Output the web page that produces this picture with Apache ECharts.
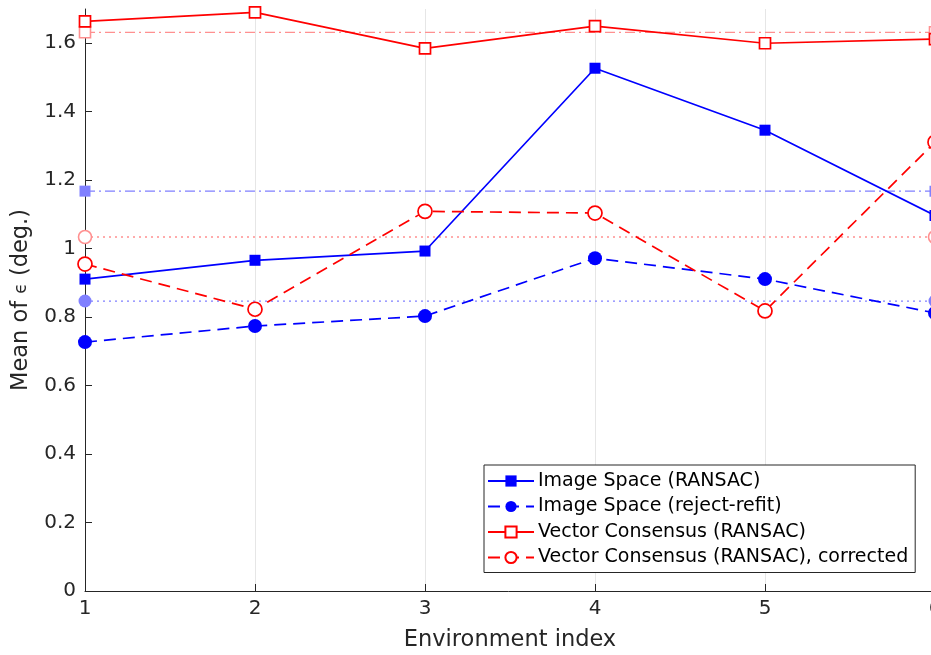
<!DOCTYPE html>
<html><head><meta charset="utf-8">
<script src="https://cdn.jsdelivr.net/npm/echarts@6/dist/echarts.min.js"></script>
<style>html,body{margin:0;padding:0;background:#fff}#c{width:931px;height:655px}</style>
</head><body><div id="c"></div>
<script>
const envIndex = [1, 2, 3, 4, 5, 6];
const imgRansac = [0.911, 0.966, 0.993, 1.527, 1.346, 1.097];
const imgRejectRefit = [0.727, 0.774, 0.803, 0.972, 0.911, 0.812];
const vcRansac = [1.664, 1.690, 1.585, 1.650, 1.600, 1.612];
const vcCorrected = [0.955, 0.823, 1.109, 1.104, 0.818, 1.311];
const meanImgRansac = 1.168;
const meanImgRejectRefit = 0.847;
const meanVcRansac = 1.632;
const meanVcCorrected = 1.034;
const yTicks = [0, 0.2, 0.4, 0.6, 0.8, 1, 1.2, 1.4, 1.6];
const names = ['Image Space (RANSAC)', 'Image Space (reject-refit)', 'Vector Consensus (RANSAC)', 'Vector Consensus (RANSAC), corrected'];

const pts = arr => envIndex.map((x, i) => [x, arr[i]]);
const meanPts = m => [[envIndex[0], m], [envIndex[envIndex.length - 1], m]];

const BLUE = '#0000ff', RED = '#ff0000', LBLUE = '#8080ff', LRED = '#ff9090';
const FONT = 'DejaVu Sans';

const chart = echarts.init(document.getElementById('c'), null, {renderer: 'canvas'});
chart.setOption({
  animation: false,
  backgroundColor: '#fff',
  grid: {left: 85, right: -4, top: 9, bottom: 64, outerBoundsMode: 'none', containLabel: false},
  legend: {
    data: names,
    orient: 'vertical',
    left: 484, top: 465,
    padding: [6, 7, 5, 3],
    itemGap: 5.5,
    itemWidth: 46, itemHeight: 14,
    backgroundColor: '#fff',
    borderColor: '#262626', borderWidth: 1,
    textStyle: {fontFamily: FONT, fontSize: 19, lineHeight: 20, color: '#000', padding: [0, 0, 0, -1]}
  },
  xAxis: {
    type: 'value', min: 1, max: 6, interval: 1,
    name: 'Environment index', nameLocation: 'middle', nameGap: 38,
    nameTextStyle: {fontFamily: FONT, fontSize: 22.5, color: '#262626'},
    axisLine: {lineStyle: {color: '#262626', width: 1}},
    axisTick: {inside: true, length: 7, lineStyle: {color: '#262626'}},
    axisLabel: {fontFamily: FONT, fontSize: 20, color: '#262626', margin: 8},
    splitLine: {show: true, lineStyle: {color: '#e6e6e6', width: 1}}
  },
  yAxis: {
    type: 'value', min: 0, max: 1.7,
    name: 'Mean of {e|ϵ} (deg.)', nameLocation: 'middle', nameGap: 52, nameRotate: 90,
    nameTextStyle: {fontFamily: FONT, fontSize: 22.5, color: '#262626', rich: {e: {fontFamily: FONT, fontSize: 17, color: '#262626'}}},
    axisLine: {show: true, lineStyle: {color: '#262626', width: 1}},
    axisTick: {inside: true, length: 7, customValues: yTicks, lineStyle: {color: '#262626'}},
    axisLabel: {fontFamily: FONT, fontSize: 20, color: '#262626', margin: 9, customValues: yTicks},
    splitLine: {show: false}
  },
  series: [
    {name: 'meanImgRansac', type: 'line', data: meanPts(meanImgRansac), symbol: 'rect', symbolSize: 11,
     lineStyle: {color: LBLUE, width: 1.3, type: [10, 4, 2, 4]}, itemStyle: {color: LBLUE}, z: 1},
    {name: 'meanImgRejectRefit', type: 'line', data: meanPts(meanImgRejectRefit), symbol: 'circle', symbolSize: 13,
     lineStyle: {color: LBLUE, width: 1.3, type: [2, 4]}, itemStyle: {color: LBLUE}, z: 1},
    {name: 'meanVcRansac', type: 'line', data: meanPts(meanVcRansac), symbol: 'rect', symbolSize: 11,
     lineStyle: {color: LRED, width: 1.3, type: [10, 4, 2, 4]}, itemStyle: {color: '#fff', borderColor: LRED, borderWidth: 1.6}, z: 1},
    {name: 'meanVcCorrected', type: 'line', data: meanPts(meanVcCorrected), symbol: 'circle', symbolSize: 13,
     lineStyle: {color: LRED, width: 1.3, type: [2, 4]}, itemStyle: {color: '#fff', borderColor: LRED, borderWidth: 1.6}, z: 1},
    {name: names[0], type: 'line', data: pts(imgRansac), symbol: 'rect', symbolSize: 11,
     lineStyle: {color: BLUE, width: 1.7}, itemStyle: {color: BLUE}, z: 3},
    {name: names[1], type: 'line', data: pts(imgRejectRefit), symbol: 'circle', symbolSize: 14,
     lineStyle: {color: BLUE, width: 1.7, type: [12, 7]}, itemStyle: {color: BLUE}, z: 3},
    {name: names[2], type: 'line', data: pts(vcRansac), symbol: 'rect', symbolSize: 11,
     lineStyle: {color: RED, width: 1.7}, itemStyle: {color: '#fff', borderColor: RED, borderWidth: 1.7}, z: 3},
    {name: names[3], type: 'line', data: pts(vcCorrected), symbol: 'circle', symbolSize: 14,
     lineStyle: {color: RED, width: 1.7, type: [12, 7]}, itemStyle: {color: '#fff', borderColor: RED, borderWidth: 1.7}, z: 3}
  ]
});
</script>
</body></html>
